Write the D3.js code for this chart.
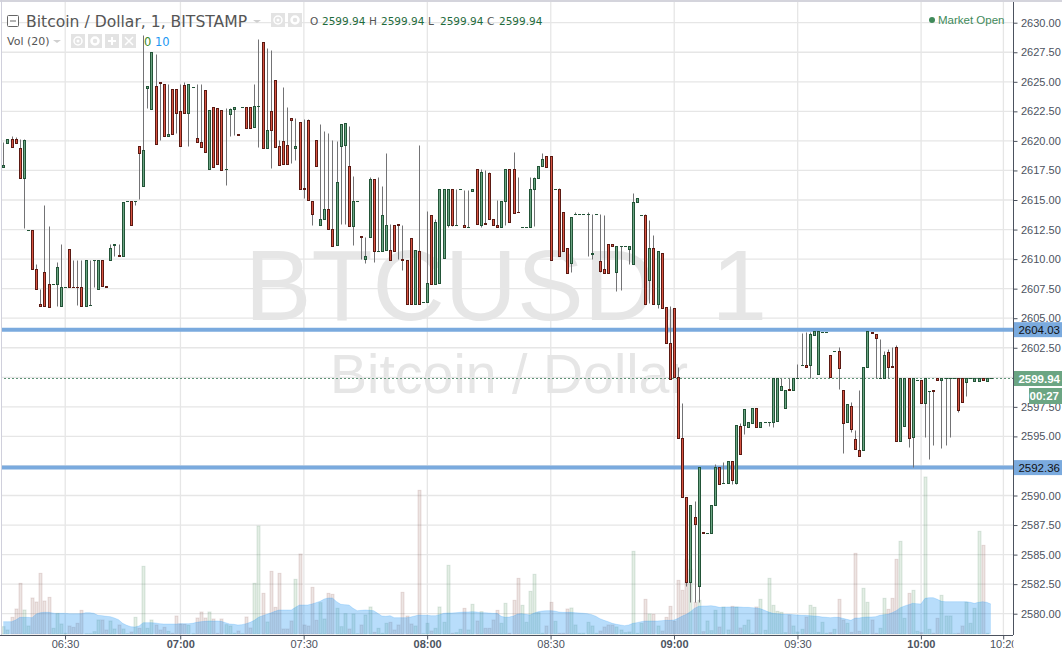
<!DOCTYPE html>
<html><head><meta charset="utf-8">
<script src="https://cdn.jsdelivr.net/npm/d3@7"></script>
<style>html,body{margin:0;padding:0;background:#fff}svg{display:block;font-family:"Liberation Sans",Arial,sans-serif}</style>
</head><body><svg id="c" width="1062" height="653"></svg>
<script>
const opens=[
2617.75,2619.85,2620.2,2620.2,2619.4,2616.9,2612.5,2612.5,2609.2,2606.2,
2608.9,2607.9,2607.9,2607.9,2606,2607.6,2610.85,2607.65,2607.65,2607.6,
2606,2606.15,2609.9,2607.5,2609.9,2607.7,2609.9,2611.2,2610.35,2610.3,
2614.9,2614.9,2614.9,2619.6,2616.15,2624.45,2622.7,2624.65,2624.95,2624.8,
2620.4,2624.4,2624.4,2622.5,2624.75,2622.4,2624.6,2620.25,2619.9,2624.3,
2617.6,2622.85,2622.75,2622.6,2617.6,2622.25,2622.7,2620.6,2622.85,2622.85,
2622.85,2621.15,2622.95,2628.4,2619.4,2622.55,2625.15,2619.6,2620,2619.65,
2621.9,2619.4,2621.6,2616,2621.75,2614.9,2620.1,2612.85,2613.4,2614.25,
2612.55,2611.2,2619.6,2619.65,2617.9,2612.8,2614.9,2611.95,2610,2611.9,
2616.75,2610.7,2610.7,2610.8,2610.8,2612.9,2612.95,2610,2609.95,2611.75,
2606.2,2610.7,2606.4,2606.4,2613.7,2607.9,2608,2610.1,2612.85,2615.95,
2612.9,2615.95,2612.9,2612.75,2615.75,2617.6,2612.85,2613.05,2617.25,2613.4,
2612.9,2612.7,2614.95,2617.6,2617.6,2614,2612.75,2612.75,2612.75,2615.95,
2616.9,2617.9,2618.75,2618.7,2615.9,2615.9,2613.95,2610.9,2609.7,2613.85,
2613.85,2613.85,2613.85,2610.4,2613.85,2609.8,2609.2,2611.25,2611.25,2608.9,
2611.15,2611.15,2610.85,2609.55,2614.85,2613.75,2613.75,2608.2,2610.9,2606.2,
2610.55,2605.95,2602.9,2605.85,2600,2594.85,2589.85,2582.65,2588.2,2582.35,
2586.9,2586.85,2586.85,2589.2,2592.4,2591.05,2591.05,2592.9,2591.05,2595.85,
2595.95,2595.8,2596.15,2597.4,2595.8,2596.2,2596.2,2596.2,2596.3,2598.95,
2597.4,2599,2598.95,2599.95,2601.05,2601.05,2601.05,2603.6,2600.3,2603.85,
2603.85,2601.9,2602.25,2602.25,2598.95,2596.2,2597.6,2594.8,2593.85,2593.85,
2600.9,2603.85,2603.7,2599.95,2599.95,2602.1,2600.95,2602.6,2594.6,2595.85,
2599.9,2594.95,2599.8,2599.8,2597.8,2598.85,2598.9,2599.9,2599.75,2599.9,
2599.9,2599.9,2599.9,2599.9,2599.6,2599.9,2599.7,2599.7,2599.9,2599.7,
2599.94];
const highs=[
2619.9,2620.2,2620.4,2620.3,2620.2,2620.2,2612.5,2612.5,2609.55,2607.45,
2614.6,2612.8,2607.9,2609.75,2611.25,2607.6,2610.85,2609.95,2609.95,2609.95,
2609.9,2609.9,2609.9,2609.9,2609.9,2607.7,2611.25,2611.3,2611.3,2614.8,
2614.9,2614.9,2614.9,2619.6,2629,2624.65,2627.5,2627.35,2624.95,2624.8,
2624.85,2624.4,2624.4,2624.85,2624.95,2624.8,2624.6,2624.8,2624.8,2624.3,
2622.6,2622.85,2622.75,2622.6,2622.8,2622.8,2622.85,2620.6,2622.85,2622.85,
2622.85,2624.8,2628.6,2628.4,2627.85,2627.65,2625.15,2620.05,2624.6,2622.9,
2621.9,2621.95,2621.6,2621.85,2621.85,2614.9,2620.1,2621.4,2620.8,2620.7,
2620.1,2620,2621.45,2621.5,2621.3,2617,2614.9,2611.95,2611.9,2616.95,
2616.75,2616.95,2616.15,2619,2612.95,2612.9,2612.95,2612.9,2609.95,2611.75,
2610.8,2619.65,2606.4,2614.05,2613.7,2613.4,2615.95,2615.95,2615.95,2615.95,
2615.95,2615.95,2615.85,2615.85,2615.95,2617.6,2617.6,2617.55,2617.35,2613.4,
2615,2614.95,2617.6,2617.6,2619.1,2616.95,2612.75,2612.75,2616.95,2616.95,
2617.9,2619,2618.75,2618.7,2615.9,2616,2613.95,2610.9,2613.6,2613.95,
2613.85,2613.85,2613.95,2613.85,2613.85,2613.85,2613.75,2611.25,2611.25,2611.15,
2611.15,2611.15,2611.15,2615.55,2615.2,2613.75,2613.85,2613.35,2612.05,2610.65,
2610.55,2605.95,2606,2605.85,2600.85,2597.8,2589.85,2589.2,2589.55,2592.4,
2586.9,2586.85,2589.2,2592.65,2592.4,2592.85,2592.9,2592.9,2596,2596.1,
2597.3,2596.2,2597.4,2597.4,2596.2,2596.2,2596.2,2599.9,2599.9,2599.9,
2598.95,2599.9,2599.9,2601.1,2603.75,2603.85,2603.85,2603.95,2603.95,2603.85,
2603.85,2601.9,2602.25,2602.6,2598.95,2597.7,2597.95,2595.55,2598.95,2600.9,
2603.95,2603.85,2603.7,2603.25,2602.25,2602.4,2602.6,2602.7,2599.9,2599.9,
2599.9,2599.9,2599.8,2599.8,2599.9,2598.85,2598.9,2599.9,2599.9,2599.9,
2599.9,2599.9,2599.9,2599.9,2599.9,2599.9,2599.9,2599.9,2599.9,2599.9,
2599.94];
const lows=[
2617.75,2619.85,2619.5,2619.85,2616.85,2612.6,2612.5,2609.2,2607.45,2606,
2606,2605.95,2607.9,2606,2606,2607.6,2607.6,2607.6,2606.1,2606,
2606,2606.15,2607.6,2607.5,2607.7,2607.6,2609.9,2610.3,2610.3,2610.3,
2614.9,2612.85,2614.6,2615.1,2616.15,2622.75,2622.7,2619.7,2620.05,2620.4,
2620.4,2620.55,2620.65,2619.55,2622.4,2619.55,2624.6,2619.9,2619.45,2619.1,
2617.6,2617.8,2618.05,2617.5,2616.3,2620.45,2620.5,2620.5,2622.85,2621.05,
2621.05,2621.15,2619.45,2619.4,2619.4,2617.7,2619.45,2617.95,2618.05,2618.05,
2618.15,2618.35,2615.95,2615.15,2615,2612.85,2617.9,2612.85,2613.4,2612.55,
2611.1,2611.2,2612.95,2612.95,2612.8,2611.2,2614.9,2610,2609.65,2611.9,
2609.75,2610.7,2610.7,2610.8,2609.95,2610.7,2610,2609.05,2606.2,2606.2,
2606.2,2606.2,2606.4,2606.4,2607.9,2607.9,2608,2610.1,2612.7,2612.8,
2612.9,2615.95,2612.7,2612.75,2615.75,2613,2612.75,2613,2613.4,2612.9,
2612.7,2612.7,2612.9,2613.1,2613.9,2613.95,2612.75,2612.75,2612.75,2612.8,
2616.9,2617.9,2617.8,2609.95,2615.9,2610.3,2610.7,2608.85,2608.9,2613.85,
2613.85,2613.85,2610.3,2610,2613.85,2608.9,2608.85,2608.85,2611.1,2607.3,
2607.35,2611.15,2609.55,2609.55,2614.85,2613.75,2606.2,2606.3,2606.2,2605.9,
2605.9,2602.9,2599.85,2600,2594.85,2589.85,2582.35,2581,2581,2581,
2586.85,2586.85,2586.85,2589.2,2591,2591.05,2591.05,2591,2591,2593.55,
2595.2,2595.8,2596.15,2595.8,2595.8,2596.2,2595.85,2595.8,2596.3,2598.95,
2597.4,2598.95,2598.95,2599.95,2601.05,2600.85,2599.95,2603.6,2600.3,2603.85,
2603.85,2600,2602.25,2599,2593.6,2596.2,2595.35,2593.95,2593.35,2593.85,
2600.9,2603.75,2599.95,2599.95,2599.95,2599.95,2600.9,2594.6,2594.6,2595.85,
2594.1,2592.4,2599.8,2597.8,2594.95,2593.1,2594.3,2599.75,2594,2594.3,
2594.95,2599.9,2597.1,2597.9,2598.45,2599.9,2599.7,2599.7,2599.75,2599.7,
2599.94];
const closes=[
2617.95,2620.2,2619.5,2619.85,2616.85,2620.05,2612.5,2609.2,2607.45,2606,
2606,2605.95,2607.9,2609.3,2607.6,2607.6,2607.6,2607.6,2607.6,2606,
2609.9,2606.15,2609.9,2609.9,2607.7,2607.6,2610.9,2611.3,2610.3,2614.8,
2614.9,2612.85,2614.9,2619,2619.2,2624.65,2627.5,2619.7,2624.9,2620.4,
2620.55,2620.55,2622.4,2619.55,2622.4,2624.8,2624.6,2619.9,2619.45,2619.1,
2622.6,2617.8,2618.05,2617.5,2617.6,2622.7,2622.85,2620.5,2622.85,2621.05,
2621.05,2622.95,2622.95,2619.4,2620.95,2620.95,2619.45,2617.95,2618.05,2618.05,
2621.75,2619.6,2615.95,2615.95,2615,2613.85,2617.9,2613.4,2614.25,2612.55,
2611.1,2616.55,2621.45,2621.5,2612.8,2614.9,2614.9,2611.9,2610.3,2616.8,
2610.7,2610.7,2613.7,2612.9,2609.95,2610.7,2612.9,2609.95,2606.2,2606.2,
2610.8,2606.2,2606.4,2607.95,2607.9,2613.1,2615.95,2615.95,2615.95,2612.9,
2612.9,2615.95,2612.7,2612.75,2615.95,2613,2617.4,2613,2613.4,2612.9,
2612.7,2614.95,2617.6,2613.1,2613.9,2613.95,2612.75,2612.75,2615.95,2616.9,
2617.9,2618.5,2617.8,2609.95,2615.9,2610.3,2610.7,2608.85,2613.6,2613.85,
2613.85,2613.85,2613.85,2610.55,2613.85,2609,2608.85,2608.85,2611.1,2611.15,
2611.15,2611.15,2611.15,2614.85,2615.2,2613.75,2606.2,2610.9,2606.2,2610.65,
2605.9,2602.9,2599.85,2600,2594.85,2589.85,2582.65,2589.2,2587.6,2592.4,
2586.85,2586.85,2589.2,2592.4,2591,2591.05,2592.9,2591.35,2596,2593.55,
2597.3,2596.2,2597.4,2595.8,2596.2,2596.2,2596.2,2599.9,2599.9,2599.3,
2598.95,2598.95,2599.9,2599.95,2601.05,2600.85,2603.7,2603.95,2603.95,2603.85,
2603.85,2600,2602.25,2600.8,2596.15,2597.7,2595.65,2593.95,2593.35,2600.9,
2603.95,2603.75,2603.3,2599.95,2601.9,2600.85,2600.9,2594.6,2599.9,2599.9,
2594.85,2599.9,2599.8,2597.8,2599.9,2598.85,2598.85,2599.75,2599.9,2599.9,
2599.9,2599.9,2597.2,2597.9,2599.9,2599.9,2599.9,2599.9,2599.8,2599.9,
2599.94];
const volumes=[
22,12,50,75,152,72,24,108,96,182,
99,110,17,62,30,2,24,20,32,71,
1,1,7,42,42,12,39,15,27,15,
1,6,50,17,203,17,42,27,12,20,
8,2,54,30,29,26,1,48,66,48,
66,45,2,45,28,24,2,9,1,51,
18,152,324,122,36,188,80,182,15,15,
39,164,240,27,24,140,41,94,45,122,
119,77,22,61,15,60,1,27,57,81,
5,17,2,32,35,12,27,125,54,30,
24,431,1,32,9,17,81,35,206,2,
4,14,77,12,89,39,67,17,17,42,
71,32,92,2,101,167,86,35,128,179,
64,2,24,95,38,2,2,75,78,27,
2,2,35,24,2,9,21,27,27,21,
12,4,6,248,2,32,104,60,59,24,
9,50,83,38,161,131,224,194,95,101,
7,39,10,71,21,81,12,83,81,18,
26,42,2,81,104,11,167,86,68,65,
4,57,24,6,14,51,86,80,5,35,
2,4,14,104,42,32,5,242,8,137,
95,42,2,17,107,74,107,224,278,47,
122,131,8,4,471,14,2,47,116,54,
54,1,2,24,95,32,77,308,266,2,
0];
const volumeMA=[
37,37,37,42,50,50,50,49,60,64,
65,65,63,61,62,62,61,61,61,61,
64,64,62,56,55,53,52,48,43,32,
26,22,21,24,34,34,34,33,31,30,
30,30,30,31,31,31,32,35,37,38,
39,39,39,38,34,30,29,27,28,31,
35,41,50,55,59,63,68,72,72,72,
72,80,87,87,87,90,94,98,105,108,
108,97,89,88,87,77,70,71,72,71,
70,62,54,53,55,49,49,49,49,51,
54,57,56,56,55,55,58,62,63,63,
64,65,66,66,67,66,64,64,63,62,
62,53,50,51,54,60,61,59,57,63,
67,69,70,70,69,66,65,65,65,64,
63,62,61,58,53,46,41,37,32,29,
27,25,27,32,34,37,39,39,39,39,
40,41,41,42,47,54,59,67,77,83,
84,84,85,83,80,80,81,81,81,81,
80,80,79,78,76,71,66,62,61,60,
59,59,58,57,56,56,55,54,53,51,
50,49,50,50,47,44,41,48,48,50,
51,51,52,56,58,59,64,70,79,84,
88,92,91,90,107,109,109,104,98,97,
97,97,97,97,97,95,92,95,97,95,
90];
const priceTicks=[2630,2627.5,2625,2622.5,2620,2617.5,2615,2612.5,2610,2607.5,2605,2602.5,2600,2597.5,2595,2592.5,2590,2587.5,2585,2582.5,2580];
const hiddenPriceLabels=[2600,2592.5];
const timeTickIndex=[15,43,73,103,133,163,193,223,243];
const timeTickLabels=["06:30","07:00","07:30","08:00","08:30","09:00","09:30","10:00","10:20"];
const boldTimeLabels=["07:00","08:00","09:00","10:00"];
const levels=[2604.03,2592.36];
const lastPrice=2599.94;
const ohlcNames=["O","H","L","C"];

const svg=d3.select("#c");
const x=d3.scaleLinear().domain([0,243]).range([3.3,1003.2]);
const y=d3.scaleLinear().domain([2580,2630]).range([613.7,22.7]);
const v=d3.scaleLinear().domain([0,90]).range([634,604]);
const px=i=>Math.round(x(i))+0.5;
const py=p=>Math.round(y(p))+0.5;
const up=i=>closes[i]>=opens[i];
const idx=d3.range(opens.length);
const W=1013,H=635;

// frame
svg.append("rect").attr("x",0).attr("y",0).attr("width",1062).attr("height",2).attr("fill","#d4d4dc");
svg.append("rect").attr("x",1).attr("y",0).attr("width",1).attr("height",H).attr("fill","#d0d0dc");
const defs=svg.append("defs");
defs.append("clipPath").attr("id","pane").append("rect").attr("x",2).attr("y",2).attr("width",W-2).attr("height",H-2);
defs.append("clipPath").attr("id","lastClip").append("rect").attr("x",-20).attr("y",0).attr("width",20+W-x(243)).attr("height",20);

// grid
const grid=svg.append("g").attr("stroke","#e6e6e6").attr("stroke-width",1.3);
grid.selectAll("line.h").data(priceTicks).join("line").attr("x1",2).attr("x2",W).attr("y1",d=>y(d)).attr("y2",d=>y(d));
grid.selectAll("line.v").data(timeTickIndex).join("line").attr("y1",2).attr("y2",H).attr("x1",d=>x(d)+.2).attr("x2",d=>x(d)+.2);

// watermark
const wm=svg.append("g").attr("fill","#e6e6e6").attr("text-anchor","middle");
wm.append("text").attr("x",506).attr("y",320).attr("font-size",100).text("BTCUSD, 1");
wm.append("text").attr("x",509).attr("y",393).attr("font-size",55.5).text("Bitcoin / Dollar");

const pane=svg.append("g").attr("clip-path","url(#pane)");
// volume
pane.append("g").selectAll("rect").data(idx).join("rect")
 .attr("x",i=>px(i)-1.5).attr("width",3)
 .attr("y",i=>v(volumes[i])).attr("height",i=>v(0)-v(volumes[i]))
 .attr("fill",i=>up(i)?"rgba(70,140,80,0.15)":"rgba(130,70,60,0.14)")
 .attr("stroke",i=>up(i)?"rgba(34,100,55,0.14)":"rgba(91,26,19,0.13)").attr("stroke-width",1);
// MA area
const area=d3.area().x(i=>x(i)).y0(v(0)).y1(i=>v(volumeMA[i]));
pane.append("path").datum(idx).attr("d",area).attr("fill","rgba(33,150,243,0.32)");
const line=d3.line().x(i=>x(i)).y(i=>v(volumeMA[i]));
pane.append("path").datum(idx).attr("d",line).attr("fill","none").attr("stroke","rgba(33,150,243,0.2)").attr("stroke-width",1);

// levels
pane.append("g").selectAll("line").data(levels).join("line")
 .attr("x1",0).attr("x2",W).attr("y1",d=>y(d)).attr("y2",d=>y(d))
 .attr("stroke","#7aaade").attr("stroke-width",4);
pane.append("line").attr("x1",0).attr("x2",W).attr("y1",py(lastPrice)).attr("y2",py(lastPrice))
 .attr("stroke","#5f9276").attr("stroke-dasharray","2 2").attr("stroke-width",1);

// candles
const candles=pane.append("g");
candles.selectAll("line").data(idx).join("line")
 .attr("x1",px).attr("x2",px).attr("y1",i=>py(highs[i])).attr("y2",i=>py(lows[i]))
 .attr("stroke","#737375").attr("stroke-width",1);
candles.selectAll("rect").data(idx).join("rect")
 .attr("x",i=>px(i)-1).attr("width",2)
 .attr("y",i=>py(Math.max(opens[i],closes[i])))
 .attr("height",i=>Math.max(py(Math.min(opens[i],closes[i]))-py(Math.max(opens[i],closes[i])),0.01))
 .attr("fill",i=>up(i)?"#6ba583":"#d75442")
 .attr("stroke",i=>up(i)?"#225437":"#5b1a13").attr("stroke-width",1);

// price axis
const yAxis=d3.axisRight(y).tickValues(priceTicks).tickSize(4)
 .tickFormat(d=>hiddenPriceLabels.includes(d)?"":d3.format(".2f")(d));
const ya=svg.append("g").attr("transform",`translate(${W+.5},0)`).call(yAxis);
ya.select(".domain").attr("d",`M0,2V${H}`).attr("stroke","#4c525e");
ya.selectAll("line").attr("stroke","#4c525e");
ya.selectAll("text").attr("x",7.5).attr("font-size",11).attr("font-family",'"Liberation Sans"').attr("fill","#4c525e");

// time axis
const xAxis=d3.axisBottom(x).tickValues(timeTickIndex).tickSize(4)
 .tickFormat((d,i)=>timeTickLabels[i]);
const xa=svg.append("g").attr("transform",`translate(0,${H+.5})`).call(xAxis);
xa.select(".domain").attr("d",`M0,0H${W}`).attr("stroke","#4c525e");
xa.selectAll("line").attr("stroke","#4c525e");
xa.selectAll("text").attr("y",5).attr("font-size",11).attr("font-family",'"Liberation Sans"').attr("fill","#4c525e")
 .attr("font-weight",(d,i)=>boldTimeLabels.includes(timeTickLabels[i])?"bold":"normal");
// clip the last label at the price axis
xa.selectAll(".tick").filter((d,i)=>i===8).select("text").attr("clip-path","url(#lastClip)");

// price labels
const lab=svg.append("g");
levels.forEach(l=>{
 const cy=y(l);
 lab.append("rect").attr("x",W+1).attr("y",cy-7.5).attr("width",48).attr("height",15).attr("fill","#7aaade");
 lab.append("text").attr("x",1060).attr("y",cy+4).attr("text-anchor","end").attr("font-size",11.5).attr("fill","#111").text(d3.format(".2f")(l));
});
const ly=y(lastPrice);
lab.append("rect").attr("x",W+1).attr("y",ly-7).attr("width",48).attr("height",15).attr("fill","#6ba583");
lab.append("text").attr("x",1060).attr("y",ly+4.5).attr("text-anchor","end").attr("font-size",11.5).attr("font-weight","bold").attr("fill","#fff").text(d3.format(".2f")(lastPrice));
lab.append("rect").attr("x",1029).attr("y",ly+10).attr("width",33).attr("height",16).attr("fill","#6ba583");
lab.append("text").attr("x",1059).attr("y",ly+22).attr("text-anchor","end").attr("font-size",11.5).attr("font-weight","bold").attr("fill","#fff").text("00:27");

// legend
const leg=svg.append("g");
const FF='"DejaVu Sans",Verdana,sans-serif';
leg.append("rect").attr("x",7.5).attr("y",15.5).attr("width",11).attr("height",11).attr("rx",1).attr("fill","#fff").attr("stroke","#666");
leg.append("line").attr("x1",10).attr("x2",16).attr("y1",21).attr("y2",21).attr("stroke","#666");
leg.append("text").attr("x",26).attr("y",26.5).attr("font-size",15.6).attr("font-family",FF).attr("fill","#555").text("Bitcoin / Dollar, 1, BITSTAMP");
leg.append("path").attr("d","M253,20h8l-4,3z").attr("fill","#d0d0d0");
const iconBox=(cx,cy,kind)=>{
 leg.append("rect").attr("x",cx-7).attr("y",cy-7).attr("width",14).attr("height",14).attr("fill","#e3e3e3");
 if(kind==="eye"){leg.append("circle").attr("cx",cx).attr("cy",cy).attr("r",4).attr("fill","none").attr("stroke","#fff").attr("stroke-width",1.5);leg.append("circle").attr("cx",cx).attr("cy",cy).attr("r",1.5).attr("fill","#fff");}
 if(kind==="gear"){leg.append("circle").attr("cx",cx).attr("cy",cy).attr("r",3.5).attr("fill","none").attr("stroke","#fff").attr("stroke-width",2.5);}
 if(kind==="plus"){leg.append("path").attr("d",`M${cx-4},${cy}h8M${cx},${cy-4}v8`).attr("stroke","#fff").attr("stroke-width",2);}
 if(kind==="x"){leg.append("path").attr("d",`M${cx-4},${cy-4}l8,8M${cx+4},${cy-4}l-8,8`).attr("stroke","#fff").attr("stroke-width",1.5);}
};
iconBox(278,20,"eye");iconBox(295,20,"gear");
const ohlcX=[310,369,428,487];
const last2=d3.format(".2f")(closes[closes.length-1]);
ohlcNames.forEach((n,k)=>{
 const gx=ohlcX[k];
 leg.append("text").attr("x",gx).attr("y",24.5).attr("font-size",10.5).attr("font-family",FF).attr("fill","#555").text(n);
 leg.append("text").attr("x",gx+12).attr("y",24.5).attr("font-size",10.5).attr("font-family",FF).attr("fill","#1f6b3c").text(last2);
});
leg.append("text").attr("x",7).attr("y",45).attr("font-size",11).attr("font-family",FF).attr("fill","#555").text("Vol (20)");
leg.append("path").attr("d","M53,40h8l-4,3z").attr("fill","#d0d0d0");
iconBox(78,41,"eye");iconBox(95,41,"gear");iconBox(112,41,"plus");iconBox(129,41,"x");
leg.append("text").attr("x",144).attr("y",46).attr("font-size",11.5).attr("font-family",FF).attr("fill","#3a8a2a").text(volumes[volumes.length-1]);
leg.append("text").attr("x",155).attr("y",46).attr("font-size",11.5).attr("font-family",FF).attr("fill","#2196f3").text("10");
leg.append("circle").attr("cx",932).attr("cy",20).attr("r",3).attr("fill","#3f8a5a");
leg.append("text").attr("x",938).attr("y",24).attr("font-size",11.5).attr("font-family",'"Liberation Sans"').attr("fill","#3f8a5a").text("Market Open");
</script></body></html>
